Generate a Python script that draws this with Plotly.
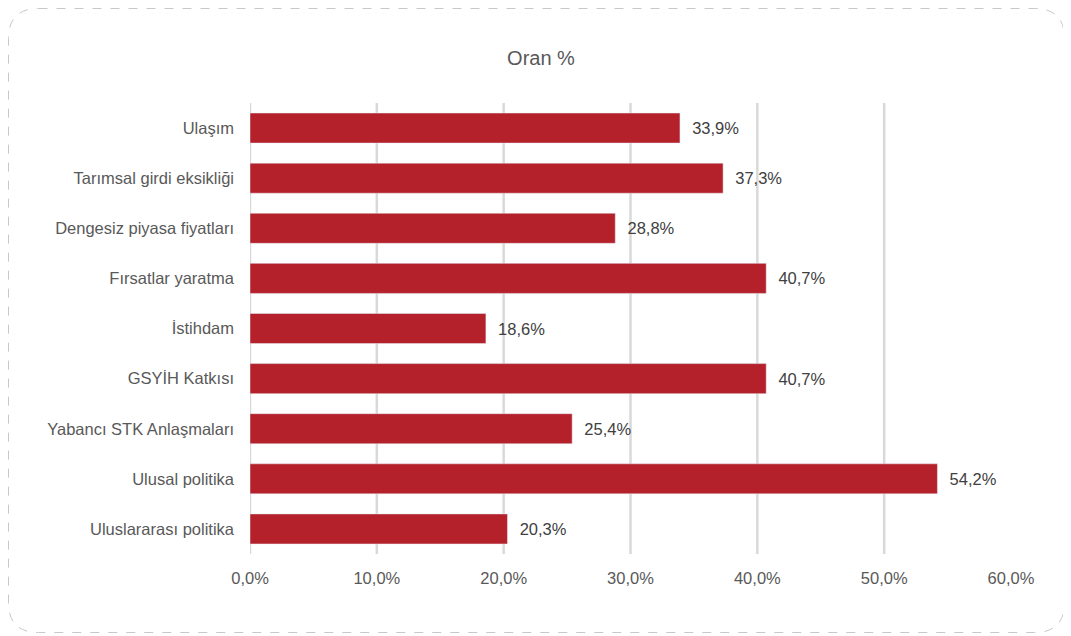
import plotly.graph_objects as go

categories = ["Ulaşım", "Tarımsal girdi eksikliği", "Dengesiz piyasa fiyatları", "Fırsatlar yaratma",
              "İstihdam", "GSYİH Katkısı", "Yabancı STK Anlaşmaları", "Ulusal politika", "Uluslararası politika"]
values = [33.9, 37.3, 28.8, 40.7, 18.6, 40.7, 25.4, 54.2, 20.3]
tick_vals = [0, 10, 20, 30, 40, 50, 60]
tick_text = ["0,0%", "10,0%", "20,0%", "30,0%", "40,0%", "50,0%", "60,0%"]
labels = ["\u00a0\u00a0" + f"{v:.1f}%".replace(".", ",") for v in values]

# page body has an 8px margin, so figure pixel coords = screenshot coords - 8
OFF = 8
W, H = 1071 - OFF, 636 - OFF
L, R, T, B = 250 - OFF, 1011 - OFF, 103 - OFF, 554 - OFF
FONT = "Liberation Sans, Arial"

fig = go.Figure(go.Bar(
    y=categories, x=values, orientation="h",
    marker=dict(color="#B5212A"),
    text=labels, textposition="outside", cliponaxis=False,
    textfont=dict(size=16.5, color="#404040", family=FONT),
    width=0.6,
))

def P(px, py):
    x = (px - OFF - L) / (R - L)
    y = (B - (py - OFF)) / (B - T)
    return f"{x:.5f},{y:.5f}"

# rounded dashed border (screenshot coords)
x0, y0, x1, y1, r = 8.5, 8.5, 1064.5, 632.5, 30
path = (f"M {P(x0 + r, y0)} L {P(x1 - r, y0)} Q {P(x1, y0)} {P(x1, y0 + r)} "
        f"L {P(x1, y1 - r)} Q {P(x1, y1)} {P(x1 - r, y1)} "
        f"L {P(x0 + r, y1)} Q {P(x0, y1)} {P(x0, y1 - r)} "
        f"L {P(x0, y0 + r)} Q {P(x0, y0)} {P(x0 + r, y0)} Z")

shapes = [dict(type="path", path=path, xref="paper", yref="paper",
               line=dict(color="#C8C8C8", width=1, dash="dash"), layer="below")]
# vertical gridlines (the 60% line is not drawn in the reference)
for tv in tick_vals[:-1]:
    shapes.append(dict(type="line", xref="x", yref="paper", x0=tv, x1=tv, y0=0, y1=1,
                       line=dict(color="#D9D9D9", width=2.5), layer="below"))

fig.update_layout(
    width=W, height=H,
    margin=dict(l=L, r=W - R, t=T, b=H - B),
    paper_bgcolor="white", plot_bgcolor="white",
    title=dict(text="Oran %", x=(541 - OFF) / W, xanchor="center", y=1 - (58 - OFF) / H, yanchor="middle",
               font=dict(size=20, color="#595959", family=FONT)),
    xaxis=dict(range=[0, 60], tickvals=tick_vals, ticktext=tick_text,
               showgrid=False, zeroline=False, showline=False, ticks="",
               tickfont=dict(size=16.5, color="#595959", family=FONT),
               ticklabelstandoff=12),
    yaxis=dict(autorange="reversed", showgrid=False, zeroline=False, showline=False, ticks="",
               tickfont=dict(size=16.5, color="#595959", family=FONT),
               ticklabelstandoff=15),
    showlegend=False,
    shapes=shapes,
)

fig.write_html("out.html")
